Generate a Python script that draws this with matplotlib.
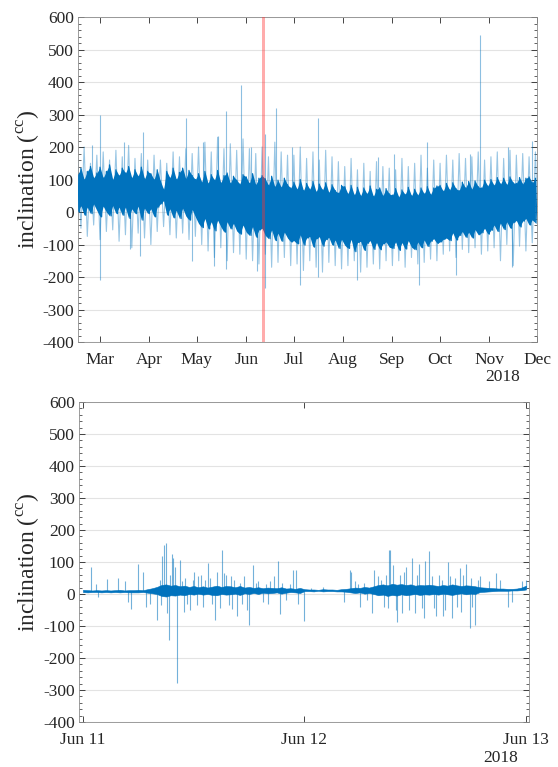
import matplotlib
matplotlib.use('Agg')
import matplotlib.pyplot as plt
import matplotlib.dates as mdates
from matplotlib.ticker import MultipleLocator
import numpy as np
import pandas as pd

plt.rcParams['font.family'] = ['Liberation Serif', 'DejaVu Serif']
plt.rcParams['mathtext.fontset'] = 'custom'
plt.rcParams['mathtext.rm'] = 'Liberation Serif'
plt.rcParams['axes.unicode_minus'] = False

# ---- full season: 2-day core band (dark) ----
season_start = '2018-02-15'
core_hi = [115, 135, 100, 125, 140, 105, 120,
           138, 105, 125, 145, 100, 130, 112, 135,
           120, 140, 105, 130, 110, 138, 102, 125,
           118, 100, 130, 95,
           70,
           125, 105, 135, 100, 122, 135, 102, 128, 112, 100,
           118, 92, 125, 88, 115, 98, 128, 90, 112, 120, 88, 110, 98, 86, 115,
           108, 88, 118, 84, 104, 112,
           102, 82, 110, 78, 98, 76, 104, 84, 74,
           92, 70, 100, 66, 88, 70, 94, 62, 86, 68, 90, 60, 84, 66, 58, 82,
           78, 56, 82, 52, 76, 50, 74, 56, 80, 48, 70, 74, 50, 72, 56,
           52, 72, 46, 68, 54, 76, 50, 70, 52, 74, 56, 78, 54, 74, 80,
           82, 64, 88, 68, 90, 72, 66, 92, 74, 94, 70, 96, 78, 74, 98, 80,
           100, 82, 106, 86, 104, 84, 108, 90, 88, 106, 86, 104, 108, 90, 104]
core_lo = [0, 20, -10, 15, -5, 25, 5,
           -15, 18, 0, -12, 20, -5, 15, -10,
           15, -20, 10, -5, 18, -25, 12, -5,
           10, -15, 15, 25,
           35,
           -10, 10, -18, 5, -20, 12, -12, -25, 8, -15,
           -35, -48, -20, -52, -30, -58, -25, -45, -62, -30, -52, -35, -58, -68, -40,
           -62, -72, -45, -78, -55, -50,
           -72, -82, -55, -88, -65, -90, -62, -80, -92,
           -88, -98, -70, -102, -80, -75, -108, -82, -76, -105, -85, -78, -102, -86, -112, -84,
           -102, -112, -84, -122, -94, -90, -118, -96, -88, -115, -94, -116, -98, -92, -108,
           -112, -92, -118, -94, -114, -88, -108, -116, -92, -110, -86, -106, -90, -82, -96,
           -92, -84, -80, -88, -64, -86, -72, -60, -78, -62, -80, -54, -70, -64, -50, -68,
           -56, -40, -60, -34, -54, -30, -50, -32, -26, -46, -28, -20, -40, -24, -34]

# ---- full season: 4-day outer envelope (light) ----
outer_hi = [165, 200, 150, 175, 185, 160, 190, 170, 205, 165, 180, 160,
            175, 160, 150, 185, 170, 195, 180,
            200, 215, 185, 230, 195, 210, 190, 225,
            195, 180, 200, 170, 215, 185, 175,
            175, 200, 165, 185, 160, 190, 170, 155,
            140, 165, 130, 150, 125, 155, 140, 135,
            130, 165, 140, 150, 175, 135, 160,
            150, 175, 160, 180, 165, 170, 185, 160,
            170, 185, 165, 190, 175, 180, 170, 185]
outer_lo = [-50, -75, -40, -85, -60, -55, -90, -70, -110, -65, -80, -100,
            -60, -45, -70, -80, -65, -85, -75,
            -100, -120, -140, -110, -150, -125, -130, -145,
            -150, -160, -130, -170, -155, -140, -165,
            -160, -180, -150, -170, -185, -155, -165, -175,
            -165, -150, -185, -170, -160, -175, -150, -165,
            -150, -170, -140, -160, -155, -145, -150,
            -130, -120, -140, -115, -125, -110, -130, -120,
            -110, -150, -100, -165, -105, -120, -95, -110]

# isolated spikes over the season
season_spike_dates = ['2018-02-24', '2018-03-01', '2018-03-01', '2018-03-16', '2018-03-20',
                      '2018-03-26', '2018-03-28', '2018-04-24', '2018-04-28', '2018-05-05',
                      '2018-05-12', '2018-05-14', '2018-05-19', '2018-05-19', '2018-05-29',
                      '2018-06-04', '2018-06-08', '2018-06-13', '2018-06-13', '2018-06-20',
                      '2018-06-30', '2018-07-05', '2018-07-16', '2018-07-16', '2018-08-10',
                      '2018-08-23', '2018-09-02', '2018-09-18', '2018-09-23', '2018-10-11',
                      '2018-10-20', '2018-10-26', '2018-11-13', '2018-11-15', '2018-11-28']
season_spike_vals = [205, 300, -210, 215, -115,
                     -135, 245, 290, -150, 215,
                     -165, 235, 310, -175, 390,
                     200, -180, 240, -235, 320,
                     200, -225, 290, -200, -210,
                     170, 180, -225, 215, -195,
                     180, 545, 200, -170, 220]

# ---- two-day detail: 30-min core band ----
detail_start = '2018-06-11'
detail_end = '2018-06-13'
det_hi = [13, 12, 11, 12, 11, 12, 11, 12, 13, 11, 12, 12, 13, 12,
          15, 18, 22, 28, 30, 26,
          28, 24, 26, 22, 25, 21, 24, 20, 23, 26, 22, 25,
          24, 21, 25, 20, 22, 19, 21, 18, 20, 19, 18, 21, 17, 18, 16, 19,
          15, 14, 14, 13, 15, 14, 14, 13, 15, 16,
          18, 20, 19, 22, 20, 24,
          28, 30, 27, 32, 29, 31, 28, 30, 26, 28, 27, 29, 27, 25, 28, 26, 30, 27, 25, 27, 26, 24,
          21, 20, 19, 18, 17, 17, 16, 16, 17, 20, 26]
det_lo = [6, 5, 6, 6, 5, 6, 5, 6, 5, 6, 5, 5, 5, 6,
          4, 2, 0, -6, -8, -4,
          -5, -2, -4, 0, -2, 1, -2, 0, -3, -4, 0, -2,
          -1, 1, -3, 2, 0, 3, 0, 4, 2, 3, 5, 1, 4, 6, 5, 3,
          9, 9, 8, 10, 8, 9, 9, 8, 8, 7,
          5, 3, 5, 1, 3, 0,
          -4, -2, -6, -3, -5, -1, -4, -2, 0, -3, -1, -2, 0, -2, 1, -1, -3, 0, 2, -1, 1, 0,
          6, 7, 8, 9, 10, 10, 10, 11, 11, 12, 14]

# spikes in the detail window (hours after Jun 11 00:00, value)
det_spike_hours = [0.9, 1.4, 1.6, 2.6, 3.8, 4.6, 4.9, 5.2, 6.0, 6.5, 6.8, 7.3, 8.0, 8.3, 8.5,
                   8.6, 8.8, 9.0, 9.1, 9.3, 9.4, 9.6, 9.8, 10.0, 10.2, 10.5, 10.7, 10.9,
                   11.0, 11.3, 11.6, 11.9, 12.0, 12.3, 12.5, 12.8, 13.0, 13.2, 13.5, 13.8,
                   14.0, 14.3, 14.5, 14.8, 15.1, 15.3, 15.5, 15.8, 16.0, 16.2, 16.4, 16.7,
                   17.0, 17.2, 17.5, 17.8, 18.0, 18.4, 18.7, 19.0, 19.5, 19.8, 20.0, 20.3,
                   20.7, 21.1, 21.3, 21.6, 22.0, 22.4, 22.8, 23.1, 23.3, 23.9, 24.7, 26.0,
                   27.5, 28.3, 28.9, 29.0, 29.5, 29.8, 30.0, 30.5, 30.8, 31.3, 31.5, 32.0,
                   32.3, 32.6, 32.8, 33.0, 33.2, 33.3, 33.6, 33.9, 34.0, 34.3, 34.6, 34.8,
                   35.0, 35.3, 35.6, 36.0, 36.2, 36.4, 36.7, 37.0, 37.1, 37.5, 37.8, 38.0,
                   38.3, 38.6, 38.9, 39.0, 39.2, 39.5, 39.8, 40.0, 40.3, 40.5, 40.8, 41.0,
                   41.2, 41.5, 41.9, 42.0, 42.2, 42.5, 42.8, 43.0, 44.0, 44.8, 45.2, 46.0,
                   46.5, 47.6, 48.0]
det_spike_vals = [85, 30, -8, 47, 50, 40, -24, -48, 93, 70, -40, -30, -81, 45, -35,
                  120, 152, 160, -60, -145, 60, 126, 111, 85, -278, 105, 40, -55,
                  50, -30, -50, 45, 70, -35, 55, 60, -40, 45, 97, 50,
                  -30, -80, 70, -45, 137, 65, 60, -35, 55, -48, 45, -70,
                  35, -30, 55, -50, -96, 90, 35, 40, -25, 30, -30, 40,
                  55, 104, -62, 35, -20, 30, 75, 75, -32, -85, 20, 22,
                  10, -25, 75, 70, 40, 30, -40, 35, -20, -58, 75, 55,
                  45, -40, 60, -45, 137, 137, 90, -50, -89, 60, -60, 70,
                  85, -50, 111, -60, 60, 95, -45, -76, 104, 135, 55, -45,
                  -68, 60, 45, -70, -50, 100, 55, -75, 50, -40, 80, -55,
                  60, 95, -107, 50, -40, -96, 45, 55, 40, 66, 45, -41,
                  -25, 40, 43]

y_ticks = [-400, -300, -200, -100, 0, 100, 200, 300, 400, 500, 600]

BLUE = '#0072BD'
AX_COLOR = '#262626'
TICK_SIZE = 12.5


def zigzag(t, hi, lo, half_step):
    xs = np.column_stack([t, t + half_step]).ravel()
    ys = np.column_stack([hi, lo]).ravel()
    return xs, ys


def draw_spikes(ax, t, vals, bin_t, bin_mid, alpha=0.5):
    idx = np.abs(bin_t[None, :] - t[:, None]).argmin(axis=1)
    ax.vlines(t, bin_mid[idx], vals, color=BLUE, lw=0.8, alpha=alpha, zorder=2)


def style_axis(ax, label_x):
    ax.set_ylim(-400, 600)
    ax.set_yticks(y_ticks)
    ax.yaxis.set_minor_locator(MultipleLocator(20))
    ax.tick_params(which='both', direction='in', top=True, right=True,
                   colors=AX_COLOR, labelsize=TICK_SIZE)
    ax.tick_params(which='major', length=4.5, width=0.6)
    ax.tick_params(which='minor', length=2, width=0.5)
    ax.tick_params(axis='x', pad=7)
    ax.tick_params(axis='y', pad=3)
    ax.grid(axis='y', color='#e3e3e3', lw=0.8, zorder=0)
    ax.set_axisbelow(True)
    for sp in ax.spines.values():
        sp.set_color('#8c8c8c')
        sp.set_linewidth(0.6)
    ax.set_ylabel(r'inclination ($^{\rm cc}$)', fontsize=17, color=AX_COLOR)
    ax.yaxis.set_label_coords(label_x, 0.5)


fig = plt.figure(figsize=(5.58, 7.67), dpi=100)
ax1 = fig.add_axes([0.1398, 0.5541, 0.8226, 0.4237])
ax2 = fig.add_axes([0.1416, 0.0587, 0.8065, 0.4172])

# --- top panel: whole season ---
t0 = mdates.date2num(pd.Timestamp(season_start))
core_t = t0 + 2.0 * np.arange(len(core_hi))
outer_t = t0 + 4.0 * np.arange(len(outer_hi))
core_hi_a = np.array(core_hi, float)
core_lo_a = np.array(core_lo, float)

# light halo of the noisy trace
xs, ys = zigzag(outer_t, np.array(outer_hi, float), np.array(outer_lo, float), 2.0)
ax1.plot(xs, ys, color=BLUE, lw=0.8, alpha=0.4, zorder=2)
draw_spikes(ax1, mdates.date2num(pd.to_datetime(season_spike_dates)),
            np.array(season_spike_vals, float), core_t, (core_hi_a + core_lo_a) / 2, alpha=0.45)
# dense core
ax1.fill_between(core_t, core_lo_a, core_hi_a, color=BLUE, lw=0, zorder=3)
xs, ys = zigzag(core_t, core_hi_a, core_lo_a, 1.0)
ax1.plot(xs, ys, color=BLUE, lw=0.9, zorder=3)

ax1.axvspan(mdates.date2num(pd.Timestamp(detail_start)), mdates.date2num(pd.Timestamp(detail_end)),
            color='#ff3030', alpha=0.4, lw=0, zorder=4)

ax1.set_xlim(t0 + 0.15, mdates.date2num(pd.Timestamp('2018-12-01')))
ax1.xaxis.set_major_locator(mdates.MonthLocator())
ax1.xaxis.set_major_formatter(mdates.DateFormatter('%b'))
style_axis(ax1, -0.077)
ax1.text(0.926, -0.108, '2018', transform=ax1.transAxes, ha='center', va='center',
         fontsize=TICK_SIZE, color=AX_COLOR)

# --- bottom panel: two-day detail ---
d0 = mdates.date2num(pd.Timestamp(detail_start))
det_t = d0 + np.arange(len(det_hi)) * 0.5 / 24
det_hi_a = np.array(det_hi, float)
det_lo_a = np.array(det_lo, float)
draw_spikes(ax2, d0 + np.array(det_spike_hours) / 24, np.array(det_spike_vals, float),
            det_t, (det_hi_a + det_lo_a) / 2, alpha=0.55)
ax2.fill_between(det_t, det_lo_a, det_hi_a, color=BLUE, lw=0.4, edgecolor=BLUE, zorder=3)

ax2.set_xlim(d0 - 0.43 / 24, mdates.date2num(pd.Timestamp(detail_end)) + 0.33 / 24)
ax2.xaxis.set_major_locator(mdates.DayLocator())
ax2.xaxis.set_major_formatter(mdates.DateFormatter('%b %d'))
style_axis(ax2, -0.080)
ax2.text(0.936, -0.1125, '2018', transform=ax2.transAxes, ha='center', va='center',
         fontsize=TICK_SIZE, color=AX_COLOR)

fig.savefig('out.png', dpi=100)
